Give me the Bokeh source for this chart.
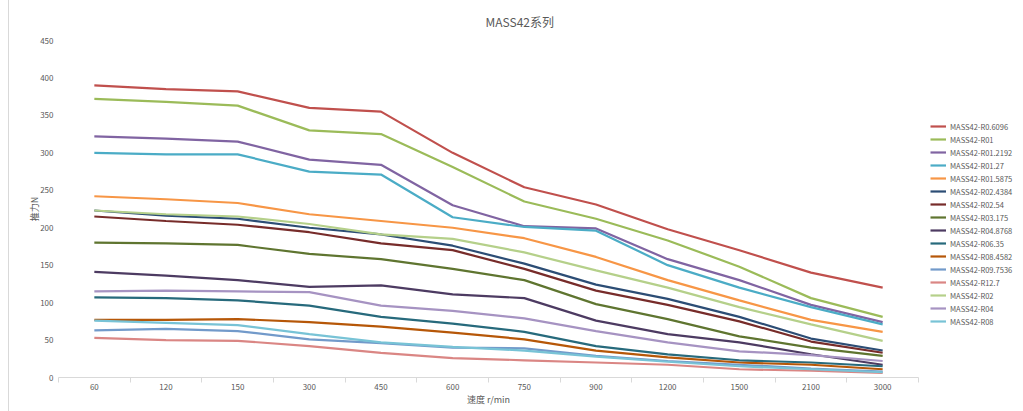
from bokeh.plotting import figure
from bokeh.models import (Range1d, FixedTicker, Legend, LegendItem, LinearAxis)
from bokeh.embed import file_html
from bokeh.resources import INLINE
import numpy as np

speeds = ["60", "120", "150", "300", "450", "600", "750", "900", "1200", "1500", "2100", "3000"]

names = ["MASS42-R0.6096", "MASS42-R01", "MASS42-R01.2192", "MASS42-R01.27",
         "MASS42-R01.5875", "MASS42-R02.4384", "MASS42-R02.54", "MASS42-R03.175",
         "MASS42-R04.8768", "MASS42-R06.35", "MASS42-R08.4582", "MASS42-R09.7536",
         "MASS42-R12.7", "MASS42-R02", "MASS42-R04", "MASS42-R08"]

r0_6096 = [390, 385, 382, 360, 355, 300, 254, 231, 198, 170, 140, 120]
r01 = [372, 368, 363, 330, 325, 281, 235, 212, 183, 148, 106, 81]
r01_2192 = [322, 319, 315, 291, 284, 230, 202, 199, 158, 130, 97, 74]
r01_27 = [300, 298, 298, 275, 271, 214, 201, 196, 150, 120, 94, 71]
r01_5875 = [242, 238, 233, 218, 209, 200, 186, 161, 130, 103, 77, 61]
r02_4384 = [223, 216, 212, 200, 191, 176, 152, 124, 105, 81, 52, 36]
r02_54 = [215, 209, 204, 194, 179, 170, 145, 116, 97, 75, 48, 33]
r03_175 = [180, 179, 177, 165, 158, 145, 130, 98, 78, 55, 40, 29]
r04_8768 = [141, 136, 130, 121, 123, 111, 106, 76, 58, 47, 31, 17]
r06_35 = [107, 106, 103, 96, 81, 72, 61, 42, 31, 23, 20, 15]
r08_4582 = [77, 77, 78, 74, 68, 60, 51, 36, 27, 20, 17, 11]
r09_7536 = [63, 65, 62, 51, 46, 40, 39, 29, 22, 17, 12, 8]
r12_7 = [53, 50, 49, 42, 33, 26, 23, 20, 17, 11, 9, 6]
r02 = [223, 218, 215, 205, 191, 185, 167, 143, 120, 94, 71, 49]
r04 = [115, 116, 115, 114, 96, 89, 79, 62, 47, 35, 30, 22]
r08 = [76, 73, 70, 58, 47, 41, 36, 28, 21, 15, 11, 7]

series = [r0_6096, r01, r01_2192, r01_27, r01_5875, r02_4384, r02_54, r03_175,
          r04_8768, r06_35, r08_4582, r09_7536, r12_7, r02, r04, r08]

colors = ["#C0504D", "#9BBB59", "#8064A2", "#4BACC6", "#F79646", "#2C4D75",
          "#772C2A", "#5F7530", "#4D3B62", "#276A7C", "#B65708", "#729ACA",
          "#DA8684", "#B5D08A", "#A693C2", "#78C3D6"]

FONT = "Noto Sans CJK SC"
GRAY = "#595959"

n = len(speeds)
xpos = list(np.arange(n) + 0.5)

p = figure(frame_width=860, frame_height=337, output_backend="svg", toolbar_location=None,
           x_range=Range1d(0, n), y_range=Range1d(0, 450),
           min_border_left=49, min_border_right=2, min_border_top=40,
           min_border_bottom=34, x_axis_type=None, y_axis_type=None)
p.margin = (0, 0, 0, 9)
p.styles = {"outline": "1px solid #d9d9d9"}
p.outline_line_color = None
p.background_fill_color = "white"
p.border_fill_color = "white"

p.title.text = "MASS42系列"
p.title.text_font = FONT
p.title.text_font_size = "12px"
p.title.text_font_style = "normal"
p.title.text_color = GRAY
p.title.align = "left"
p.title.offset = 427
p.title.standoff = 21

xaxis = LinearAxis(ticker=FixedTicker(ticks=xpos, minor_ticks=list(range(n + 1))))
xaxis.major_label_overrides = {float(x): s for x, s in zip(xpos, speeds)}
xaxis.major_tick_line_color = None
xaxis.major_tick_out = 0
xaxis.major_tick_in = 0
xaxis.minor_tick_line_color = "#d9d9d9"
xaxis.minor_tick_in = 0
xaxis.minor_tick_out = 5
xaxis.axis_line_color = "#d9d9d9"
xaxis.major_label_text_font = FONT
xaxis.major_label_text_font_size = "8px"
xaxis.major_label_text_color = GRAY
xaxis.major_label_standoff = 1
xaxis.axis_label = "速度 r/min"
xaxis.axis_label_text_font = FONT
xaxis.axis_label_text_font_size = "9px"
xaxis.axis_label_text_font_style = "normal"
xaxis.axis_label_text_color = GRAY
xaxis.axis_label_standoff = 0
p.add_layout(xaxis, "below")

yaxis = LinearAxis(ticker=FixedTicker(ticks=list(range(0, 451, 50))))
yaxis.axis_line_color = None
yaxis.major_tick_line_color = None
yaxis.major_tick_out = 0
yaxis.major_tick_in = 0
yaxis.minor_tick_line_color = None
yaxis.minor_tick_out = 0
yaxis.major_label_text_font = FONT
yaxis.major_label_text_font_size = "8px"
yaxis.major_label_text_color = GRAY
yaxis.major_label_standoff = 5
yaxis.axis_label = "推力N"
yaxis.axis_label_text_font = FONT
yaxis.axis_label_text_font_size = "9px"
yaxis.axis_label_text_font_style = "normal"
yaxis.axis_label_text_color = GRAY
yaxis.axis_label_standoff = -4
p.add_layout(yaxis, "left")

p.ygrid.ticker = FixedTicker(ticks=list(range(50, 451, 50)))
p.ygrid.grid_line_color = "#e3e3e3"
p.xgrid.grid_line_color = None

items = []
for name, vals, c in zip(names, series, colors):
    r = p.line(xpos, vals, line_color=c, line_width=2.2)
    items.append(LegendItem(label=name, renderers=[r]))

legend = Legend(items=items, location=(12, 50))
legend.padding = 0
legend.margin = 0
legend.spacing = 1
legend.label_height = 12
legend.glyph_height = 12
legend.glyph_width = 16
legend.label_standoff = 4
legend.label_text_font = FONT
legend.label_text_font_size = "7.5px"
legend.label_text_color = GRAY
legend.border_line_color = None
legend.background_fill_alpha = 0
p.add_layout(legend, "right")

open("out.html", "w").write(file_html(p, INLINE))
